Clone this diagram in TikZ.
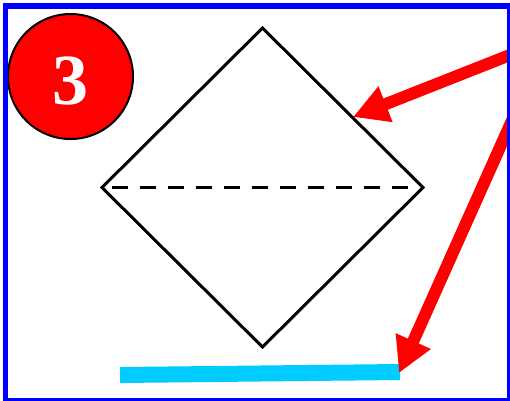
\documentclass[tikz,border=0pt]{standalone}
\usepackage{fontspec}
\setmainfont{Liberation Serif}
\usepackage{xcolor}
\usetikzlibrary{arrows.meta}
\definecolor{skyline}{RGB}{0,204,255}

\begin{document}
\begin{tikzpicture}[x=1pt, y=-1pt,
    badge/.style={circle, draw=black, line width=2pt, fill=red, minimum size=125pt, inner sep=0pt,
        text=white, font=\fontsize{72}{72}\selectfont\bfseries, text height=55pt, text depth=0pt},
    rim/.style={black, line width=3pt, line join=miter},
    mid/.style={black, line width=3.5pt, dash pattern=on 16pt off 12pt},
    pointer/.style={red, line width=12pt, -{Triangle[length=35pt, width=36pt]}},
    floor/.style={skyline, line width=16pt},
    frame/.style={blue, line width=5.5pt}]
                \useasboundingbox (0,0) rectangle (510,400);
                \clip (0,0) rectangle (510,400);

                \node[badge] (N) at (70.5,76.5) {3};

                \coordinate (T) at (262.5,28);
                \coordinate (R) at (423,187.5);
                \coordinate (B) at (262.5,347);
                \coordinate (L) at (102,187.5);
                \draw[rim] (T) -- (R) -- (B) -- (L) -- cycle;

                \coordinate (ML) at (112,187.5);
                \coordinate (MR) at (408,187.5);
                \draw[mid] (ML) -- (MR);

                \coordinate (FL) at (120,375);
                \coordinate (FR) at (400,372);
                \draw[floor] (FL) -- (FR);

                \coordinate (S) at (548,40);
                \coordinate (P1) at (353,117);
                \coordinate (P2) at (399,373);
                \draw[pointer] (S) -- (P1);
                \draw[pointer] (S) -- (P2);

                \draw[frame] (5.5,5.8) rectangle (510,400.5);
            \end{tikzpicture}
\end{document}
